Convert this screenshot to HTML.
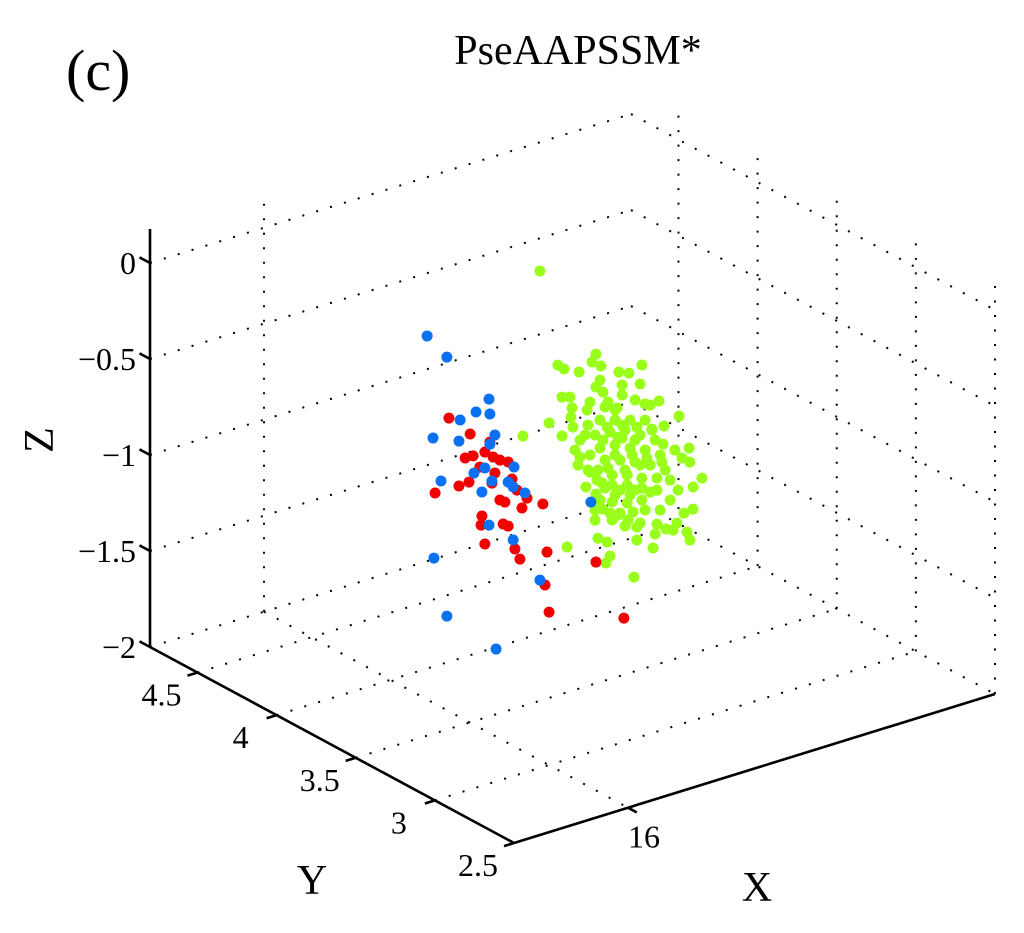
<!DOCTYPE html>
<html><head><meta charset="utf-8"><style>
html,body{margin:0;padding:0;background:#fff;}
svg{display:block;font-family:"Liberation Serif",serif;}
</style></head><body>
<svg id="chart" width="1024" height="933" viewBox="0 0 1024 933" xmlns="http://www.w3.org/2000/svg">
<rect width="1024" height="933" fill="#fff"/>
<text x="66" y="90" font-size="58">(c)</text>
<text x="578" y="64" font-size="42" text-anchor="middle">PseAAPSSM*</text>
<text x="0" y="0" font-size="42" text-anchor="middle" transform="translate(53,440) rotate(-90)">Z</text>
<text x="312" y="894" font-size="42" text-anchor="middle">Y</text>
<text x="757" y="901" font-size="42" text-anchor="middle">X</text>
<g id="grid"></g>
<g id="axes"></g>
<g id="ticks"></g>
<g id="points"></g>
</svg>
<script>
const xTicks = [16];
const yTicks = [2.5, 3, 3.5, 4, 4.5];
const zTicks = [0, -0.5, -1, -1.5, -2];
const zTickLabels = ["0", "\u22120.5", "\u22121", "\u22121.5", "\u22122"];
const yTickLabels = ["2.5", "3", "3.5", "4", "4.5"];
const xTickLabels = ["16"];
const xRange = [15.613, 17.246];
const yRange = [2.5, 4.8];
const zRange = [-2, 0.177];
const yDepth = 3.65;

const greenX = [16.319,16.261,16.350,16.394,16.411,16.380,16.401,16.452,16.394,16.421,16.428,16.424,16.431,16.509,16.496,16.526,16.587,16.621,16.665,16.523,16.509,16.659,16.598,16.533,16.598,16.642,16.676,16.723,16.489,16.550,16.479,16.581,16.791,16.740,16.699,16.825,16.801,16.828,16.737,16.869,16.839,16.788,16.475,16.509,16.455,16.448,16.489,16.530,16.839,16.808,16.533,16.608,16.648,16.659,16.716,16.747,16.784,16.818,16.828,16.771,16.710,16.648,16.516,16.547,16.703,16.557,16.543,16.638,16.591,16.557,16.523,16.574,16.625,16.676,16.506,16.557,16.608,16.659,16.710,16.523,16.574,16.625,16.676,16.727,16.540,16.591,16.642,16.693,16.516,16.564,16.615,16.665,16.716,16.540,16.591,16.642,16.693,16.564,16.615,16.665,16.584,16.635,16.482,16.540,16.744,16.761,16.455,16.438,16.598,16.550,16.659,16.608,16.574,16.642,
16.547,16.598,16.648,16.699,16.489,16.533,16.584,16.632,16.682,16.733,16.513,16.564,16.615,16.665,16.716,16.523,16.574,16.625,16.676,16.727,16.506,16.618,16.564,16.506,16.482,16.761,16.777,16.472,16.693,16.574];
const greenZ = [0.133,-0.699,-0.673,-0.762,-1.348,-0.386,-0.416,-0.456,-0.559,-0.572,-0.632,-0.678,-0.733,-0.390,-0.425,-0.460,-0.521,-0.542,-0.521,-0.532,-0.561,-0.617,-0.593,-0.599,-0.645,-0.692,-0.729,-0.736,-0.630,-0.659,-0.667,-0.705,-0.847,-0.874,-0.871,-1.030,-1.070,-1.104,-0.967,-1.207,-1.239,-1.231,-1.066,-1.119,-0.901,-0.939,-0.995,-1.071,-1.354,-1.360,-1.208,-1.332,-1.357,-1.341,-1.374,-1.414,-1.401,-1.464,-1.510,-1.431,-1.422,-1.425,-1.352,-1.387,-1.492,-1.465,-1.494,-1.613,-1.257,-1.241,-0.740,-0.764,-0.789,-0.813,-0.810,-0.819,-0.832,-0.883,-0.933,-0.886,-0.894,-0.934,-0.969,-1.019,-0.956,-0.981,-1.015,-1.055,-0.997,-1.046,-1.070,-1.110,-1.134,-1.102,-1.137,-1.161,-1.196,-1.186,-1.216,-1.224,-1.264,-1.272,-0.747,-0.680,-1.105,-1.270,-0.812,-0.856,-0.869,-1.003,-1.039,-1.041,-0.946,-0.901,
-0.788,-0.802,-0.836,-0.876,-0.906,-0.849,-0.858,-0.974,-1.014,-1.059,-1.048,-1.098,-1.122,-1.162,-1.197,-1.157,-1.155,-1.179,-1.281,-1.306,-1.201,-1.306,-1.280,-1.253,-0.981,-1.166,-1.017,-0.794,-0.743,-0.712];
const blueX = [15.936,16.003,16.146,16.102,16.149,16.048,15.956,16.044,16.166,16.149,16.231,16.095,16.156,15.983,16.211,16.228,16.268,16.122,16.146,16.228,15.959,16.319,16.003,16.170,16.132,16.492];
const blueZ = [-0.023,-0.165,-0.452,-0.498,-0.531,-0.514,-0.564,-0.622,-0.648,-0.688,-0.846,-0.813,-0.883,-0.801,-0.915,-0.948,-0.999,-0.924,-1.108,-1.224,-1.191,-1.477,-1.514,-1.765,-0.804,-1.153];
const redX = [16.010,16.082,16.149,16.132,16.065,16.092,16.160,16.183,16.211,16.115,16.166,16.224,16.078,16.044,15.963,16.156,16.241,16.275,16.183,16.200,16.329,16.258,16.122,16.119,16.194,16.211,16.132,16.234,16.343,16.251,16.336,16.350,16.509,16.604];
const redZ = [-0.486,-0.603,-0.677,-0.721,-0.720,-0.722,-0.760,-0.787,-0.810,-0.791,-0.846,-0.905,-0.852,-0.856,-0.854,-0.894,-0.971,-1.029,-0.995,-1.014,-1.085,-1.072,-1.049,-1.095,-1.125,-1.144,-1.200,-1.274,-1.342,-1.335,-1.510,-1.658,-1.473,-1.810];

const NS = "http://www.w3.org/2000/svg";
function P(x, y, z) {
  const fx = (x - xRange[0]) / (xRange[1] - xRange[0]);
  const fy = (yRange[1] - y) / (yRange[1] - yRange[0]);
  return [150 + fx * 481 + fy * 364, 647 - fx * 149 + fy * 196 - (z - zRange[0]) * 192];
}
function line(parent, a, b, dotted, name) {
  const l = document.createElementNS(NS, "line");
  
  
  l.setAttribute("x1", a[0]); l.setAttribute("y1", a[1]);
  l.setAttribute("x2", b[0]); l.setAttribute("y2", b[1]);
  l.setAttribute("stroke", "#000");
  if (dotted) { l.setAttribute("stroke-width", "2"); l.setAttribute("stroke-dasharray", "2 12.5"); }
  else { l.setAttribute("stroke-width", "2.6"); }
  parent.appendChild(l);
}
function label(parent, x, y, txt, anchor, name) {
  const t = document.createElementNS(NS, "text");
  
  
  t.setAttribute("x", x); t.setAttribute("y", y);
  t.setAttribute("font-size", "32");
  t.setAttribute("text-anchor", anchor);
  t.textContent = txt;
  parent.appendChild(t);
}
const grid = document.getElementById("grid");
const axes = document.getElementById("axes");
const ticks = document.getElementById("ticks");
const [x0, x1] = xRange, [y0, y1] = yRange, [z0, z1] = zRange;

zTicks.forEach(z => {
  line(grid, P(x0, y1, z), P(x1, y1, z), true, "z-grid-line-back");
  line(grid, P(x1, y1, z), P(x1, y0, z), true, "z-grid-line-side");
});
yTicks.forEach(y => {
  if (y !== y0) line(grid, P(x0, y, z0), P(x1, y, z0), true, "y-grid-line-floor");
  line(grid, P(x1, y, z0), P(x1, y, z1), true, "y-grid-line-wall");
});
xTicks.forEach(x => {
  line(grid, P(x, y1, z0), P(x, y0, z0), true, "x-grid-line-floor");
  line(grid, P(x, y1, z0), P(x, y1, z1), true, "x-grid-line-wall");
});

line(axes, P(x0, y1, z0), P(x0, y1, z1), false, "z-axis-line");
line(axes, P(x0, y1, z0), P(x0, y0, z0), false, "y-axis-line");
line(axes, P(x0, y0, z0), P(x1, y0, z0), false, "x-axis-line");

zTicks.forEach((z, i) => {
  const p = P(x0, y1, z);
  line(axes, p, [p[0] - 10.5, p[1] - 5.6], false, "z-tick");
  label(ticks, p[0] - 14, p[1] + 11, zTickLabels[i], "end", "z-tick-label");
});
yTicks.forEach((y, i) => {
  const p = P(x0, y, z0);
  line(axes, p, [p[0] - 10, p[1] + 3.1], false, "y-tick");
  label(ticks, p[0] - 36, p[1] + 33, yTickLabels[i], "middle", "y-tick-label");
});
xTicks.forEach((x, i) => {
  const p = P(x, y0, z0);
  line(axes, p, [p[0] + 8.8, p[1] + 4.7], false, "x-tick");
  label(ticks, p[0] + 16, p[1] + 40, xTickLabels[i], "middle", "x-tick-label");
});

const pts = document.getElementById("points");
function drawSeries(xs, zs, color, name) {
  const g = document.createElementNS(NS, "g");
  
  
  xs.forEach((x, i) => {
    const p = P(x, yDepth, zs[i]);
    const c = document.createElementNS(NS, "circle");
    
    
    c.setAttribute("cx", p[0]); c.setAttribute("cy", p[1]);
    c.setAttribute("r", "5.5");
    c.setAttribute("fill", color);
    g.appendChild(c);
  });
  pts.appendChild(g);
}
drawSeries(greenX, greenZ, "#99ff1a", "green-series");
drawSeries(redX, redZ, "#f20000", "red-series");
drawSeries(blueX, blueZ, "#0a72f2", "blue-series");
</script>
</body></html>
